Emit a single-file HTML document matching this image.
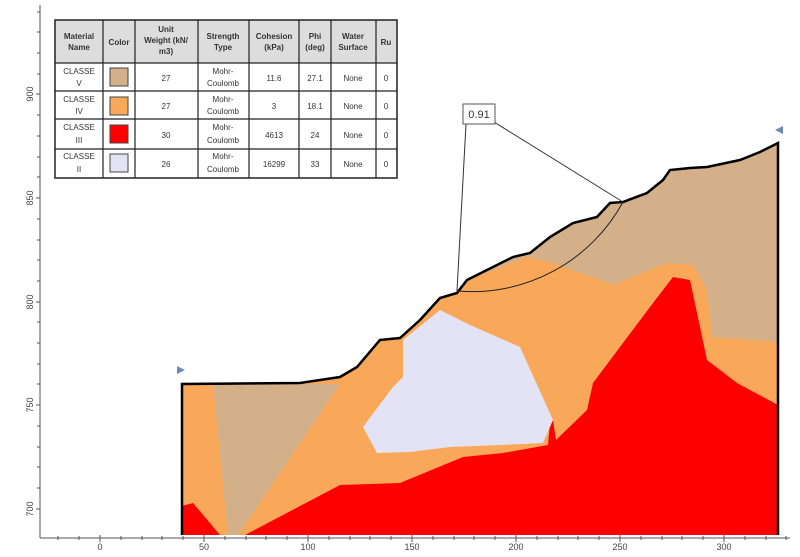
<!DOCTYPE html>
<html><head><meta charset="utf-8"><style>
body{margin:0;background:#fff;width:800px;height:552px;overflow:hidden;font-family:"Liberation Sans",sans-serif}
</style></head><body>
<svg width="800" height="552" viewBox="0 0 800 552" xmlns="http://www.w3.org/2000/svg" font-family="Liberation Sans, sans-serif">
<rect width="800" height="552" fill="#fff"/>
<path d="M182,535 L182,384 L300,383 L340,377 L357,367 L380,340 L400,338 L420,320 L440,298 L457,293 L467,280 L487,270 L513,257 L530,253 L550,237 L573,223 L597,217 L610,203 L623,202 L647,193 L663,180 L670,170 L690,168 L707,167 L740,160 L760,152 L778,143 L778,535 Z" fill="#f9a85a"/>
<path d="M467,280 L487,270 L513,257 L530,253 L550,237 L573,223 L597,217 L610,203 L623,202 L647,193 L663,180 L670,170 L690,168 L707,167 L740,160 L760,152 L778,143 L778,342 L712,337 L707,290 L693,265 L667,263 L613,285 L553,263 L527,257 Z" fill="#d4b08a"/>
<path d="M213,384 L340,384 L238,535 L228,535 Z" fill="#d4b08a"/>
<path d="M245,535 L340,485 L400,483 L463,457 L503,453 L548,445 L550,423 L553,420 L556,440 L587,410 L593,383 L653,303 L673,277 L690,280 L707,360 L737,383 L778,405 L778,535 Z" fill="#fe0000"/>
<path d="M182,535 L182,506 L193,503 L220,535 Z" fill="#fe0000"/>
<path d="M440,310 L470,325 L520,347 L553,420 L543,443 L500,445 L450,447 L410,452 L377,453 L363,427 L393,387 L403,377 L403,340 Z" fill="#e3e3f5"/>
<path d="M182,535 L182,384 L300,383 L340,377 L357,367 L380,340 L400,338 L420,320 L440,298 L457,293 L467,280 L487,270 L513,257 L530,253 L550,237 L573,223 L597,217 L610,203 L623,202 L647,193 L663,180 L670,170 L690,168 L707,167 L740,160 L760,152 L778,143 L778,535" fill="none" stroke="#000" stroke-width="2.5"/>
<path d="M457,291 A172 172 0 0 0 623,202" fill="none" stroke="#222" stroke-width="1"/>
<line x1="466" y1="124" x2="457" y2="291" stroke="#333" stroke-width="1"/>
<line x1="494" y1="122" x2="623" y2="202" stroke="#333" stroke-width="1"/>
<rect x="463" y="104" width="32" height="20" fill="#fff" stroke="#555"/>
<text x="479" y="118" font-size="11" text-anchor="middle" fill="#333">0.91</text>
<path d="M177,366 L185,370 L177,374 Z" fill="#6a8bb5"/>
<path d="M783,126 L775,130 L783,134 Z" fill="#6a8bb5"/>
<line x1="40" y1="5" x2="40" y2="538" stroke="#555"/>
<line x1="40" y1="538" x2="790" y2="538" stroke="#555"/>
<g stroke="#666" id="yt"></g>
<g stroke="#555">
<path d="M36,509h4M36,405h4M36,302h4M36,198h4M36,94h4"/>
<path d="M37,488h3M37,467h3M37,447h3M37,426h3M37,384h3M37,364h3M37,343h3M37,322h3M37,281h3M37,260h3M37,240h3M37,219h3M37,177h3M37,157h3M37,136h3M37,115h3M37,74h3M37,53h3M37,32h3M37,12h3"/>
<path d="M100,535v7M204,535v7M308,535v7M412,535v7M516,535v7M620,535v7M724,535v7"/>
<path d="M58,536v4M79,536v4M121,536v4M142,536v4M162,536v4M183,536v4M225,536v4M246,536v4M266,536v4M287,536v4M329,536v4M350,536v4M370,536v4M391,536v4M433,536v4M454,536v4M474,536v4M495,536v4M537,536v4M558,536v4M578,536v4M599,536v4M641,536v4M662,536v4M682,536v4M703,536v4M745,536v4M766,536v4M786,536v4"/>
</g>
<g font-size="9" fill="#444">
<text transform="translate(33,509) rotate(-90)" text-anchor="middle">700</text>
<text transform="translate(33,405) rotate(-90)" text-anchor="middle">750</text>
<text transform="translate(33,302) rotate(-90)" text-anchor="middle">800</text>
<text transform="translate(33,198) rotate(-90)" text-anchor="middle">850</text>
<text transform="translate(33,94) rotate(-90)" text-anchor="middle">900</text>
<text x="100" y="550" text-anchor="middle">0</text><text x="204" y="550" text-anchor="middle">50</text><text x="308" y="550" text-anchor="middle">100</text><text x="412" y="550" text-anchor="middle">150</text><text x="516" y="550" text-anchor="middle">200</text><text x="620" y="550" text-anchor="middle">250</text><text x="724" y="550" text-anchor="middle">300</text>
</g>
<g font-size="8" fill="#333" text-anchor="middle">
<rect x="55" y="20" width="342" height="43" fill="#ddd"/>
<rect x="55" y="20" width="342" height="158" fill="none" stroke="#222" stroke-width="1.5"/>
<g stroke="#222" stroke-width="1.2">
<line x1="103" y1="20" x2="103" y2="178"/><line x1="135" y1="20" x2="135" y2="178"/><line x1="198" y1="20" x2="198" y2="178"/><line x1="249" y1="20" x2="249" y2="178"/><line x1="299" y1="20" x2="299" y2="178"/><line x1="331" y1="20" x2="331" y2="178"/><line x1="376" y1="20" x2="376" y2="178"/>
<line x1="55" y1="63" x2="397" y2="63"/><line x1="55" y1="91" x2="397" y2="91"/><line x1="55" y1="119" x2="397" y2="119"/><line x1="55" y1="149" x2="397" y2="149"/>
</g>
<g font-weight="bold">
<text x="79" y="39">Material</text><text x="79" y="50">Name</text>
<text x="119" y="45">Color</text>
<text x="166" y="32">Unit</text><text x="166" y="43">Weight (kN/</text><text x="166" y="54">m3)</text>
<text x="223" y="39">Strength</text><text x="223" y="50">Type</text>
<text x="274" y="39">Cohesion</text><text x="274" y="50">(kPa)</text>
<text x="315" y="39">Phi</text><text x="315" y="50">(deg)</text>
<text x="353" y="39">Water</text><text x="353" y="50">Surface</text>
<text x="386" y="45">Ru</text>
</g>
<rect x="110" y="68" width="18" height="18" fill="#d4b08a" stroke="#444"/>
<rect x="110" y="97" width="18" height="18" fill="#f9a85a" stroke="#444"/>
<rect x="110" y="125" width="18" height="18" fill="#fe0000" stroke="#444"/>
<rect x="110" y="154" width="18" height="18" fill="#e3e3f5" stroke="#444"/>
<text x="79" y="74">CLASSE</text><text x="79" y="86">V</text>
<text x="79" y="102">CLASSE</text><text x="79" y="114">IV</text>
<text x="79" y="130">CLASSE</text><text x="79" y="143">III</text>
<text x="79" y="159">CLASSE</text><text x="79" y="172">II</text>
<text x="166" y="81">27</text><text x="166" y="109">27</text><text x="166" y="138">30</text><text x="166" y="167">26</text>
<text x="223" y="74">Mohr-</text><text x="223" y="86">Coulomb</text>
<text x="223" y="102">Mohr-</text><text x="223" y="114">Coulomb</text>
<text x="223" y="130">Mohr-</text><text x="223" y="143">Coulomb</text>
<text x="223" y="159">Mohr-</text><text x="223" y="172">Coulomb</text>
<text x="274" y="81">11.6</text><text x="274" y="109">3</text><text x="274" y="138">4613</text><text x="274" y="167">16299</text>
<text x="315" y="81">27.1</text><text x="315" y="109">18.1</text><text x="315" y="138">24</text><text x="315" y="167">33</text>
<text x="353" y="81">None</text><text x="353" y="109">None</text><text x="353" y="138">None</text><text x="353" y="167">None</text>
<text x="386" y="81">0</text><text x="386" y="109">0</text><text x="386" y="138">0</text><text x="386" y="167">0</text>
</g>
</svg>
</body></html>
